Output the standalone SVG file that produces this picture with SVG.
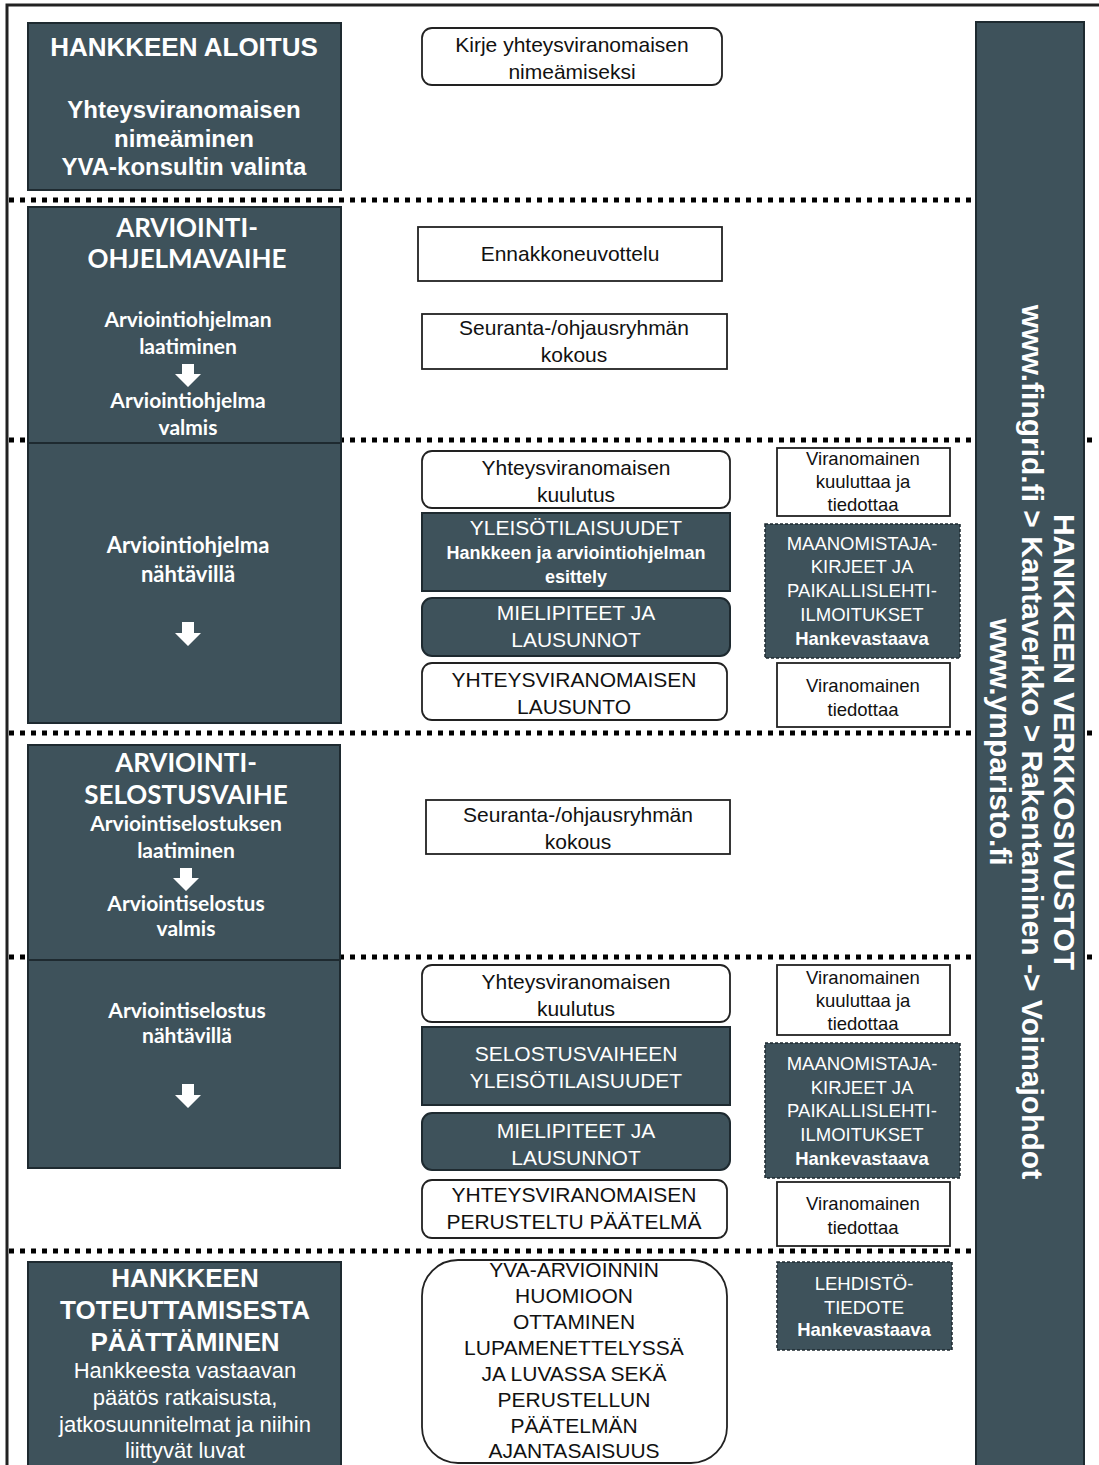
<svg xmlns="http://www.w3.org/2000/svg" width="1099" height="1465" viewBox="0 0 1099 1465">
<style>
.dark{fill:#3e525b;stroke:#1e2a30;stroke-width:2}
.darkdot{fill:#3e525b;stroke:#1e2a30;stroke-width:1.5;stroke-dasharray:3 2}
.white{fill:#fff;stroke:#222;stroke-width:1.8}
.sep{stroke:#000;stroke-width:5;stroke-dasharray:5 6;fill:none}
.frame{stroke:#222;stroke-width:3;fill:none}
text{font-family:"Liberation Sans",Arial,sans-serif;text-anchor:middle}
.hw{fill:#fff;font-weight:bold;font-size:26px}
.sw{fill:#fff;font-weight:bold;font-size:24px}
.lh{fill:#fff;font-family:Lato,"Liberation Sans",sans-serif;font-weight:bold;font-size:26px}
.ls{fill:#fff;font-family:Lato,"Liberation Sans",sans-serif;font-weight:bold;font-size:21px}
.m{fill:#111;font-size:21px}
.mw{fill:#fff;font-size:21px}
.r{fill:#111;font-size:18.5px}
.rw{fill:#fff;font-size:18.5px}
.side{fill:#fff;font-weight:bold;font-size:30px}
.arrow{fill:#fff}
</style>

<path class="frame" d="M7 1465 V5 H1099"/>

<g id="separators">
<line class="sep" x1="9" y1="200" x2="972" y2="200"/>
<line class="sep" x1="9" y1="440" x2="1092" y2="440"/>
<line class="sep" x1="9" y1="733" x2="1092" y2="733"/>
<line class="sep" x1="9" y1="957" x2="1092" y2="957"/>
<line class="sep" x1="9" y1="1251" x2="975" y2="1251"/>
</g>

<g id="side-bar">
<rect class="dark" x="976" y="22" width="108" height="1450"/>
<text class="side" transform="translate(1054 742) rotate(90)">HANKKEEN VERKKOSIVUSTOT</text>
<text class="side" transform="translate(1022 742) rotate(90)">www.fingrid.fi &gt; Kantaverkko &gt; Rakentaminen -&gt; Voimajohdot</text>
<text class="side" transform="translate(990 742) rotate(90)">www.ymparisto.fi</text>
</g>

<g id="aloitus">
<rect class="dark" x="28" y="23" width="313" height="167"/>
<text class="hw" x="184" y="56">HANKKEEN ALOITUS</text>
<text class="sw" x="184" y="118">Yhteysviranomaisen</text>
<text class="sw" x="184" y="147">nimeäminen</text>
<text class="sw" x="184" y="175">YVA-konsultin valinta</text>
</g>

<g id="ohjelmavaihe">
<rect class="dark" x="28" y="207" width="313" height="236"/>
<text class="lh" x="187" y="237">ARVIOINTI-</text>
<text class="lh" x="187" y="268">OHJELMAVAIHE</text>
<text class="ls" x="188" y="327">Arviointiohjelman</text>
<text class="ls" x="188" y="354">laatiminen</text>
<text class="ls" x="188" y="408">Arviointiohjelma</text>
<text class="ls" x="188" y="435">valmis</text>
</g>

<g id="ohjelma-nahtavilla">
<rect class="dark" x="28" y="443" width="313" height="280"/>
<text class="ls" x="188" y="553" style="font-size:22px">Arviointiohjelma</text>
<text class="ls" x="188" y="582" style="font-size:22px">nähtävillä</text>
</g>

<g id="selostusvaihe">
<rect class="dark" x="28" y="745" width="312" height="215"/>
<text class="lh" x="186" y="772">ARVIOINTI-</text>
<text class="lh" x="186" y="804">SELOSTUSVAIHE</text>
<text class="ls" x="186" y="831">Arviointiselostuksen</text>
<text class="ls" x="186" y="858">laatiminen</text>
<text class="ls" x="186" y="911">Arviointiselostus</text>
<text class="ls" x="186" y="936">valmis</text>
</g>

<g id="selostus-nahtavilla">
<rect class="dark" x="28" y="960" width="312" height="208"/>
<text class="ls" x="187" y="1018">Arviointiselostus</text>
<text class="ls" x="187" y="1043">nähtävillä</text>
</g>

<g id="paattaminen">
<rect class="dark" x="28" y="1262" width="313" height="210"/>
<text class="hw" x="185" y="1287">HANKKEEN</text>
<text class="hw" x="185" y="1319">TOTEUTTAMISESTA</text>
<text class="hw" x="185" y="1351">PÄÄTTÄMINEN</text>
<text class="mw" x="185" y="1378" style="font-size:22px">Hankkeesta vastaavan</text>
<text class="mw" x="185" y="1405" style="font-size:22px">päätös ratkaisusta,</text>
<text class="mw" x="185" y="1432" style="font-size:22px">jatkosuunnitelmat ja niihin</text>
<text class="mw" x="185" y="1458" style="font-size:22px">liittyvät luvat</text>
</g>

<g id="kirje">
<rect class="white" x="422" y="28" width="300" height="57" rx="10"/>
<text class="m" x="572" y="52">Kirje yhteysviranomaisen</text>
<text class="m" x="572" y="79">nimeämiseksi</text>
</g>

<g id="ennakkoneuvottelu">
<rect class="white" x="418" y="227" width="304" height="54"/>
<text class="m" x="570" y="261">Ennakkoneuvottelu</text>
</g>

<g id="seuranta1">
<rect class="white" x="422" y="314" width="305" height="55"/>
<text class="m" x="574" y="335">Seuranta-/ohjausryhmän</text>
<text class="m" x="574" y="362">kokous</text>
</g>

<g id="kuulutus1">
<rect class="white" x="422" y="451" width="308" height="57" rx="10"/>
<text class="m" x="576" y="475">Yhteysviranomaisen</text>
<text class="m" x="576" y="502">kuulutus</text>
</g>

<g id="yleisotilaisuudet1">
<rect class="dark" x="422" y="513" width="308" height="78"/>
<text class="mw" x="576" y="535">YLEISÖTILAISUUDET</text>
<text class="mw" x="576" y="559" style="font-size:18px;font-weight:bold">Hankkeen ja arviointiohjelman</text>
<text class="mw" x="576" y="583" style="font-size:18px;font-weight:bold">esittely</text>
</g>

<g id="mielipiteet1">
<rect class="dark" x="422" y="598" width="308" height="58" rx="10"/>
<text class="mw" x="576" y="620">MIELIPITEET JA</text>
<text class="mw" x="576" y="647">LAUSUNNOT</text>
</g>

<g id="lausunto">
<rect class="white" x="422" y="663" width="305" height="57" rx="10"/>
<text class="m" x="574" y="687">YHTEYSVIRANOMAISEN</text>
<text class="m" x="574" y="714">LAUSUNTO</text>
</g>

<g id="viranomainen-kuuluttaa1">
<rect class="white" x="777" y="448" width="173" height="68"/>
<text class="r" x="863" y="465">Viranomainen</text>
<text class="r" x="863" y="488">kuuluttaa ja</text>
<text class="r" x="863" y="511">tiedottaa</text>
</g>

<g id="maanomistaja1">
<rect class="darkdot" x="765" y="524" width="195" height="134"/>
<text class="rw" x="862" y="550">MAANOMISTAJA-</text>
<text class="rw" x="862" y="573">KIRJEET JA</text>
<text class="rw" x="862" y="597">PAIKALLISLEHTI-</text>
<text class="rw" x="862" y="621">ILMOITUKSET</text>
<text class="rw" x="862" y="645" style="font-weight:bold">Hankevastaava</text>
</g>

<g id="viranomainen-tiedottaa1">
<rect class="white" x="777" y="663" width="173" height="64"/>
<text class="r" x="863" y="692">Viranomainen</text>
<text class="r" x="863" y="716">tiedottaa</text>
</g>

<g id="seuranta2">
<rect class="white" x="426" y="800" width="304" height="54"/>
<text class="m" x="578" y="822">Seuranta-/ohjausryhmän</text>
<text class="m" x="578" y="849">kokous</text>
</g>

<g id="kuulutus2">
<rect class="white" x="422" y="965" width="308" height="57" rx="10"/>
<text class="m" x="576" y="989">Yhteysviranomaisen</text>
<text class="m" x="576" y="1016">kuulutus</text>
</g>

<g id="yleisotilaisuudet2">
<rect class="dark" x="422" y="1027" width="308" height="78"/>
<text class="mw" x="576" y="1061">SELOSTUSVAIHEEN</text>
<text class="mw" x="576" y="1088">YLEISÖTILAISUUDET</text>
</g>

<g id="mielipiteet2">
<rect class="dark" x="422" y="1113" width="308" height="57" rx="10"/>
<text class="mw" x="576" y="1138">MIELIPITEET JA</text>
<text class="mw" x="576" y="1165">LAUSUNNOT</text>
</g>

<g id="paatelma">
<rect class="white" x="422" y="1180" width="305" height="58" rx="10"/>
<text class="m" x="574" y="1202">YHTEYSVIRANOMAISEN</text>
<text class="m" x="574" y="1229">PERUSTELTU PÄÄTELMÄ</text>
</g>

<g id="viranomainen-kuuluttaa2">
<rect class="white" x="777" y="965" width="173" height="70"/>
<text class="r" x="863" y="984">Viranomainen</text>
<text class="r" x="863" y="1007">kuuluttaa ja</text>
<text class="r" x="863" y="1030">tiedottaa</text>
</g>

<g id="maanomistaja2">
<rect class="darkdot" x="765" y="1043" width="195" height="135"/>
<text class="rw" x="862" y="1070">MAANOMISTAJA-</text>
<text class="rw" x="862" y="1094">KIRJEET JA</text>
<text class="rw" x="862" y="1117">PAIKALLISLEHTI-</text>
<text class="rw" x="862" y="1141">ILMOITUKSET</text>
<text class="rw" x="862" y="1165" style="font-weight:bold">Hankevastaava</text>
</g>

<g id="viranomainen-tiedottaa2">
<rect class="white" x="777" y="1182" width="173" height="64"/>
<text class="r" x="863" y="1210">Viranomainen</text>
<text class="r" x="863" y="1234">tiedottaa</text>
</g>

<g id="yva-huomioon">
<rect class="white" x="422" y="1260" width="305" height="203" rx="36"/>
<text class="m" x="574" y="1277">YVA-ARVIOINNIN</text>
<text class="m" x="574" y="1303">HUOMIOON</text>
<text class="m" x="574" y="1329">OTTAMINEN</text>
<text class="m" x="574" y="1355">LUPAMENETTELYSSÄ</text>
<text class="m" x="574" y="1381">JA LUVASSA SEKÄ</text>
<text class="m" x="574" y="1407">PERUSTELLUN</text>
<text class="m" x="574" y="1433">PÄÄTELMÄN</text>
<text class="m" x="574" y="1458">AJANTASAISUUS</text>
</g>

<g id="lehdistotiedote">
<rect class="darkdot" x="777" y="1262" width="175" height="88"/>
<text class="rw" x="864" y="1290">LEHDISTÖ-</text>
<text class="rw" x="864" y="1314">TIEDOTE</text>
<text class="rw" x="864" y="1336" style="font-weight:bold">Hankevastaava</text>
</g>

<g id="connectors">
<polygon class="arrow" points="182,364 194,364 194,374 201,374 188,387 175,374 182,374"/>
<polygon class="arrow" points="182,622 194,622 194,633 201,633 188,646 175,633 182,633"/>
<polygon class="arrow" points="180,868 192,868 192,878 199,878 186,891 173,878 180,878"/>
<polygon class="arrow" points="182,1084 194,1084 194,1095 201,1095 188,1108 175,1095 182,1095"/>
</g>
</svg>
